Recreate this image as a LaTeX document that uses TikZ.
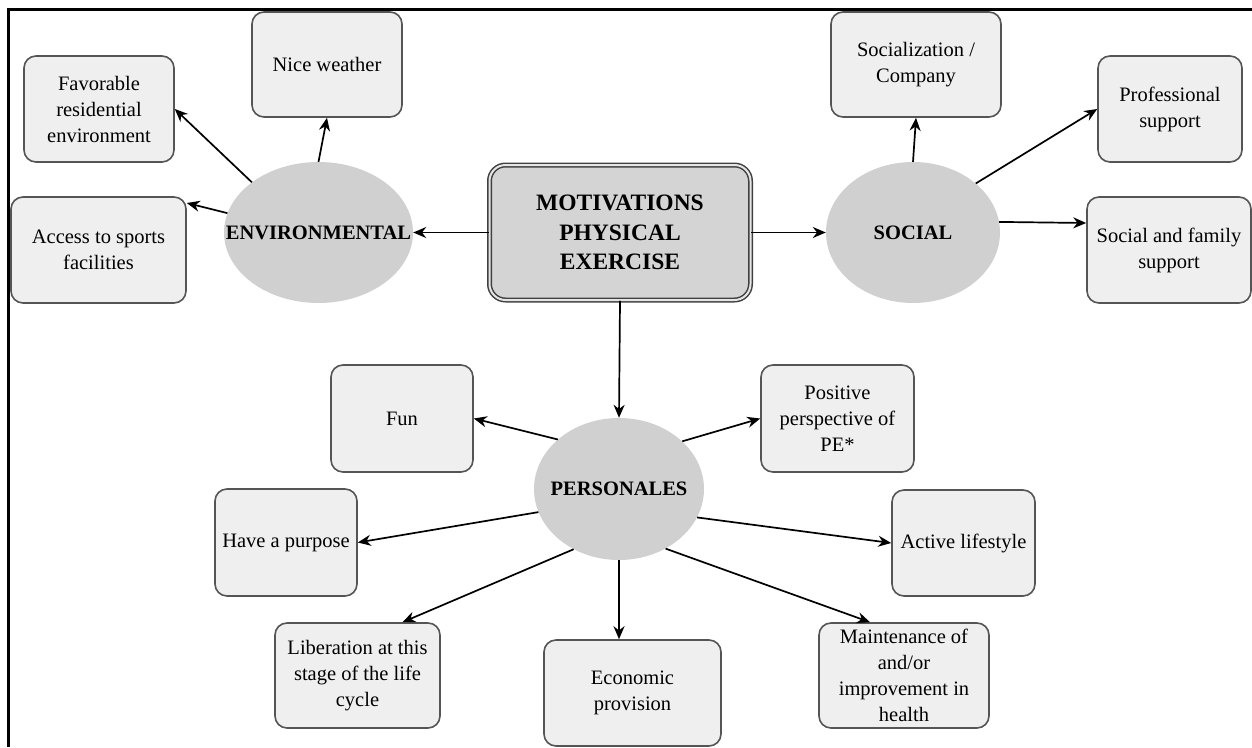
\documentclass[tikz,border=0pt]{standalone}
\usepackage{fontspec}
\setmainfont{Liberation Serif}
\usetikzlibrary{arrows.meta,shapes.geometric,calc}
\definecolor{boxfill}{HTML}{EFEFEF}
\definecolor{boxline}{HTML}{555555}
\definecolor{ellfill}{HTML}{D0D0D0}
\definecolor{mainfill}{HTML}{D4D4D4}
\definecolor{mainline}{HTML}{404040}
\tikzset{
  box/.style={draw=boxline, fill=boxfill, line width=1.6pt, rounded corners=12pt,
    rectangle, align=center, inner sep=2pt, font=\fontsize{20.5}{26}\selectfont},
  ell/.style={ellipse, fill=ellfill, draw=none, inner sep=0pt,
    font=\fontsize{20.5}{25}\selectfont\bfseries},
  mainbox/.style={draw=mainline, fill=mainfill, line width=1.5pt, double=white!80!gray,
    double distance=2pt, rounded corners=16pt, align=center,
    font=\fontsize{23.5}{29.5}\selectfont\bfseries},
  arr/.style={line width=1.7pt, -{Stealth[length=13pt,width=11pt]}},
  frame/.style={line width=3pt}
}
\begin{document}
\begin{tikzpicture}[x=1pt,y=-1pt]
\useasboundingbox (0,0) rectangle (1252,747);
\draw[frame] (1252,9) -- (8,9) -- (8,747);

\node[mainbox, minimum width=261pt, minimum height=135pt] (main) at (620,232.5)
  {MOTIVATIONS\\PHYSICAL\\EXERCISE};

\node[ell, minimum width=189pt, minimum height=141pt] (env) at (318.5,232.5) {\makebox[0pt]{ENVIRONMENTAL}};
\node[ell, minimum width=174pt, minimum height=141pt] (soc) at (913,232.5) {\makebox[0pt]{SOCIAL}};
\node[ell, minimum width=170pt, minimum height=142pt] (pers) at (619,489) {\makebox[0pt]{PERSONALES}};

\node[box, minimum width=150pt, minimum height=105pt] (nice) at (327,64.5) {Nice weather};
\node[box, minimum width=150pt, minimum height=106pt] (fav) at (99,109) {Favorable\\residential\\environment};
\node[box, minimum width=175pt, minimum height=106pt] (acc) at (98.5,250) {Access to sports\\facilities};
\node[box, minimum width=170pt, minimum height=105pt] (socz) at (916,64.5) {Socialization /\\Company};
\node[box, minimum width=144pt, minimum height=106pt] (prof) at (1170,109) {Professional\\support};
\node[box, minimum width=164pt, minimum height=106pt] (sfam) at (1169,250) {Social and family\\support};
\node[box, minimum width=142pt, minimum height=107pt] (fun) at (402,418.5) {Fun};
\node[box, minimum width=142pt, minimum height=107pt] (purp) at (286,542.5) {Have a purpose};
\node[box, minimum width=165pt, minimum height=105pt] (lib) at (357.5,675.5) {Liberation at this\\stage of the life\\cycle};
\node[box, minimum width=177pt, minimum height=106pt] (econ) at (632.5,693) {Economic\\provision};
\node[box, minimum width=153pt, minimum height=107pt] (pos) at (837.5,418.5) {Positive\\perspective of\\PE*};
\node[box, minimum width=143pt, minimum height=106pt] (act) at (963.5,543) {Active lifestyle};
\node[box, minimum width=170pt, minimum height=105pt] (maint) at (904,675.5) {Maintenance of\\and/or\\improvement in\\health};

\draw[arr] (main.west) -- (env.east);
\draw[arr] (main.east) -- (soc.west);
\draw[arr] (main.south) -- (pers.north);

\draw[arr] (env.north) -- (nice.south);
\draw[arr] (env.143) -- (fav.east);
\draw[arr] (env.168) -- ([yshift=47pt]acc.east);

\draw[arr] (soc.north) -- (socz.south);
\draw[arr] (soc.38.6) -- (prof.west);
\draw[arr] (soc.7) -- ([yshift=27pt]sfam.west);

\draw[arr] (pers.141) -- (fun.east);
\draw[arr] (pers.196.4) -- (purp.east);
\draw[arr] (pers.233.6) -- ([xshift=45pt]lib.north);
\draw[arr] (pers.south) -- (econ.north -| pers.south);
\draw[arr] (pers.37.4) -- (pos.west);
\draw[arr] (pers.-20) -- (act.west);
\draw[arr] (pers.-52) -- ([xshift=-34pt]maint.north);
\end{tikzpicture}
\end{document}
